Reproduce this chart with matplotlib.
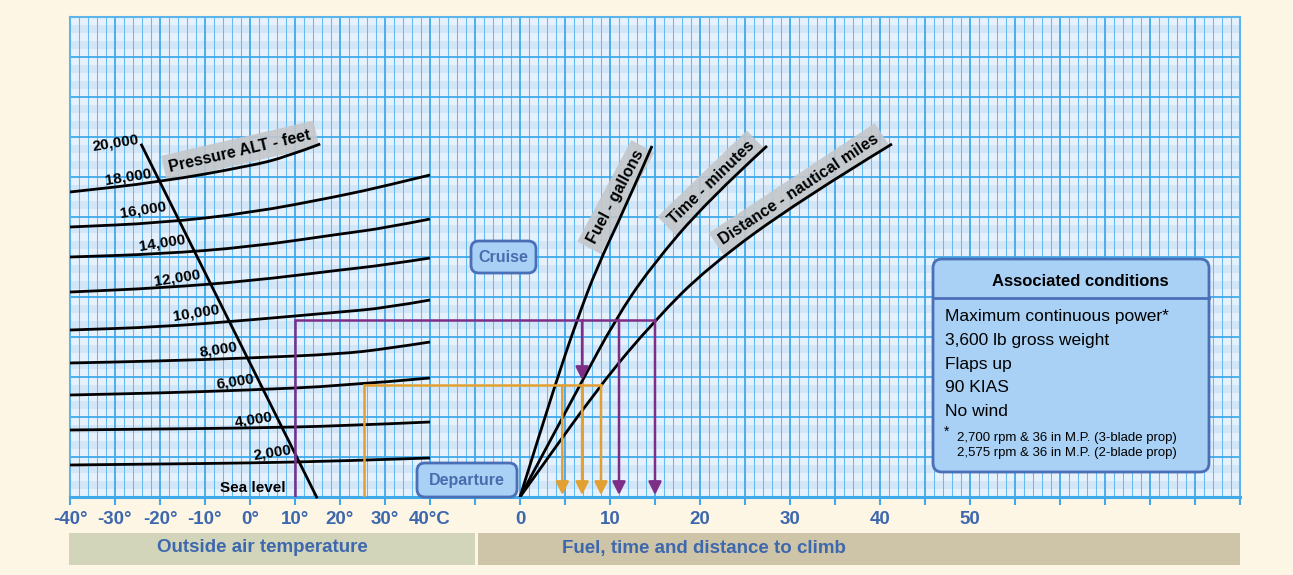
import matplotlib
matplotlib.use("Agg")
import matplotlib.pyplot as plt
from matplotlib.patches import FancyBboxPatch, Rectangle, PathPatch
from matplotlib.path import Path

plt.rcParams["font.family"] = ["Liberation Sans", "DejaVu Sans"]

# --- colours ---
CREAM = "#FDF6E4"
GRID_LIGHT = "#E5F1FC"
GRID_BAND = "#D3E6F8"
GRID_LINE = "#3FA9EA"
GRID_MINOR = "#66BBF0"
TXT_BLUE = "#3E68AD"
BOX_FILL = "#A9D1F5"
BOX_EDGE = "#4A6FB6"
PURPLE = "#7D2E87"
ORANGE = "#E3A032"

# --- data (x in deg C, y in chart rows; fuel scale shares the x axis) ---
temp_ticks = [-40, -30, -20, -10, 0, 10, 20, 30, 40]
temp_labels = ["-40°", "-30°", "-20°", "-10°", "0°", "10°", "20°", "30°", "40°C"]
fuel_ticks = [0, 10, 20, 30, 40, 50]

alt_names = ["2,000", "4,000", "6,000", "8,000", "10,000", "12,000", "14,000", "16,000", "18,000"]
alt_x = [
    [-40, -20, 0, 20, 40],
    [-40, -20, 0, 20, 40],
    [-40, -20, 0, 20, 40],
    [-40, -20, 0, 20, 30, 40],
    [-40, -20, 0, 20, 30, 40],
    [-40, -20, 0, 20, 30, 40],
    [-40, -20, 0, 20, 30, 40],
    [-40, -20, 0, 20, 30, 40],
    [-40, -20, 0, 8, 15.6],
]
alt_y = [
    [0.80, 0.825, 0.85, 0.90, 0.975],
    [1.675, 1.70, 1.725, 1.775, 1.875],
    [2.55, 2.60, 2.675, 2.775, 2.975],
    [3.35, 3.40, 3.475, 3.575, 3.70, 3.875],
    [4.175, 4.25, 4.425, 4.625, 4.725, 4.925],
    [5.125, 5.225, 5.40, 5.675, 5.80, 5.975],
    [6.0, 6.075, 6.25, 6.575, 6.725, 6.95],
    [6.75, 6.85, 7.10, 7.525, 7.775, 8.05],
    [7.625, 7.875, 8.275, 8.5, 8.825],
]
alt_label_text = ["Sea level", "2,000", "4,000", "6,000", "8,000", "10,000",
                  "12,000", "14,000", "16,000", "18,000", "20,000"]
alt_label_x = [0.7, 4.9, 0.9, -3.3, -7.1, -12.0, -16.2, -19.6, -23.8, -27.1, -29.8]
alt_label_y = [0.225, 1.1, 1.925, 2.875, 3.675, 4.6, 5.475, 6.35, 7.175, 8.0, 8.85]

std_x = [-24.1, 14.8]
std_y = [8.8, 0.0]

fuel_f = [0, 3.89, 6.33, 8.56, 11.56, 14.67]
fuel_y = [0, 2.8, 4.425, 5.75, 7.175, 8.775]
time_f = [0, 6.67, 10.56, 14.44, 20.89, 27.44]
time_y = [0, 2.8, 4.425, 5.725, 7.425, 8.775]
dist_f = [0, 8.89, 15.0, 20.78, 31.11, 41.33]
dist_y = [0, 2.8, 4.425, 5.725, 7.425, 8.825]

dep_temp, dep_row = 25.3, 2.8
dep_reads = [4.7, 6.9, 9.0]
cru_temp, cru_row = 10.0, 4.425
cru_reads = [6.9, 11.0, 15.0]
cru_stop = [2.875, 0.0, 0.0]

conditions = ["Maximum continuous power*", "3,600 lb gross weight", "Flaps up",
              "90 KIAS", "No wind"]
footnotes = ["2,700 rpm & 36 in M.P. (3-blade prop)",
             "2,575 rpm & 36 in M.P. (2-blade prop)"]


def fx(f):
    # fuel/time/distance scale: 0 at 60 deg on the shared axis, 1 unit = 2 deg
    return 60 + 2 * f


def smooth_curve(ax, xs, ys, **kw):
    # draw the read points as a smooth quadratic-bezier chain
    pts = list(zip(xs, ys))
    verts = [pts[0]]
    codes = [Path.MOVETO]
    if len(pts) > 2:
        verts.append(((pts[0][0] + pts[1][0]) / 2, (pts[0][1] + pts[1][1]) / 2))
        codes.append(Path.LINETO)
        for i in range(1, len(pts) - 1):
            nxt = pts[i + 1]
            mid = ((pts[i][0] + nxt[0]) / 2, (pts[i][1] + nxt[1]) / 2)
            end = nxt if i == len(pts) - 2 else mid
            verts += [pts[i], end]
            codes += [Path.CURVE3, Path.CURVE3]
    else:
        verts.append(pts[1])
        codes.append(Path.LINETO)
    ax.add_patch(PathPatch(Path(verts, codes), fill=False, **kw))


fig = plt.figure(figsize=(12.93, 5.75), dpi=100, facecolor=CREAM)
ax = fig.add_axes([70 / 1293, 78 / 575, 1170 / 1293, 480 / 575])
ax.set_facecolor(GRID_LIGHT)
ax.set_xlim(-40, 220)
ax.set_ylim(0, 12)

# striped background bands
for k in range(12):
    ax.axhspan(k + 0.2, k + 0.4, color=GRID_BAND, lw=0, zorder=0)
    ax.axhspan(k + 0.6, k + 0.8, color=GRID_BAND, lw=0, zorder=0)

major_x = list(range(-40, 221, 10))
labels = []
for t in major_x:
    if t in temp_ticks:
        labels.append(temp_labels[temp_ticks.index(t)])
    elif (t - 60) / 2 in fuel_ticks:
        labels.append(str(int((t - 60) / 2)))
    else:
        labels.append("")
ax.set_xticks(major_x, labels=labels)
ax.set_xticks(range(-40, 221, 2), minor=True)
ax.set_yticks(range(0, 13))
ax.set_yticks([], minor=True)
ax.tick_params(axis="x", which="major", direction="out", length=6, width=1.5,
               color=GRID_LINE, pad=4, labelsize=13.5, labelcolor=TXT_BLUE)
ax.tick_params(axis="x", which="minor", length=0)
ax.tick_params(axis="y", length=0, labelleft=False)
for lab in ax.get_xticklabels():
    lab.set_fontweight("bold")
ax.set_axisbelow(True)
ax.grid(True, which="major", color=GRID_LINE, lw=1.3)
ax.grid(True, which="minor", axis="x", color=GRID_MINOR, lw=0.75)
for s in ax.spines.values():
    s.set_color("#5DB5EE")
    s.set_linewidth(1.5)
ax.spines["bottom"].set_color(GRID_LINE)
ax.spines["bottom"].set_linewidth(2.2)

# pressure altitude lines
for xs, ys in zip(alt_x, alt_y):
    smooth_curve(ax, xs, ys, ec="black", lw=2, capstyle="butt", zorder=3)
ax.plot(std_x, std_y, color="black", lw=2, zorder=3, clip_on=False)
for s, x, y in zip(alt_label_text, alt_label_x, alt_label_y):
    ax.text(x, y, s, ha="center", va="center", fontsize=11, fontweight="bold",
            rotation=0 if s == "Sea level" else 9, zorder=4)

# fuel / time / distance curves
for fs, ys in [(fuel_f, fuel_y), (time_f, time_y), (dist_f, dist_y)]:
    smooth_curve(ax, [fx(v) for v in fs], ys, ec="black", lw=2, zorder=3)

gray = dict(boxstyle="square,pad=0.35", fc="#C4C7CA", ec="none", alpha=0.9)
ax.text(-2.2, 8.65, "Pressure ALT - feet", rotation=13, ha="center", va="center",
        fontsize=11.5, fontweight="bold", bbox=gray, zorder=2)
ax.text(81.3, 7.5, "Fuel - gallons", rotation=62, ha="center", va="center",
        fontsize=11.5, fontweight="bold", bbox=gray, zorder=2)
ax.text(102.5, 7.85, "Time - minutes", rotation=44, ha="center", va="center",
        fontsize=11.5, fontweight="bold", bbox=gray, zorder=2)
ax.text(122.0, 7.7, "Distance - nautical miles", rotation=33.5, ha="center",
        va="center", fontsize=11.5, fontweight="bold", bbox=gray, zorder=2)

# example routes
def route(t, row, reads, stops, color):
    ax.plot([t, t, fx(reads[-1])], [0, row, row], color=color, lw=1.8, zorder=5,
            solid_joinstyle="miter")
    for v, stop in zip(reads, stops):
        ax.annotate("", xy=(fx(v), stop + 0.05), xytext=(fx(v), row),
                    arrowprops=dict(arrowstyle="-|>,head_length=0.6,head_width=0.3",
                                    color=color, lw=1.8, shrinkA=0, shrinkB=0,
                                    mutation_scale=13), zorder=5)

route(dep_temp, dep_row, dep_reads, [0, 0, 0], ORANGE)
route(cru_temp, cru_row, cru_reads, cru_stop, PURPLE)

# overlay in figure pixels for boxes and captions
ov = fig.add_axes([0, 0, 1, 1], zorder=10)
ov.set_xlim(0, 1293)
ov.set_ylim(575, 0)
ov.axis("off")

ov.add_patch(Rectangle((69, 533), 406, 32, fc="#D3D5BB", ec="none"))
ov.add_patch(Rectangle((478, 533), 762, 32, fc="#CEC5A9", ec="none"))
ov.text(262, 548, "Outside air temperature", ha="center", va="center",
        fontsize=13.5, fontweight="bold", color=TXT_BLUE)
ov.text(704, 548, "Fuel, time and distance to climb", ha="center", va="center",
        fontsize=13.5, fontweight="bold", color=TXT_BLUE)

for (x0, y0, w, h, s) in [(471, 241, 65, 32, "Cruise"), (417, 463, 100, 34, "Departure")]:
    ov.add_patch(FancyBboxPatch((x0, y0), w, h, boxstyle="round,pad=0,rounding_size=8",
                                fc=BOX_FILL, ec=BOX_EDGE, lw=2))
    ov.text(x0 + w / 2, y0 + h / 2 + 1, s, ha="center", va="center", fontsize=11.5,
            fontweight="bold", color="#4A6BAE")

ov.add_patch(FancyBboxPatch((933, 259), 276, 213, boxstyle="round,pad=0,rounding_size=9",
                            fc=BOX_FILL, ec=BOX_EDGE, lw=2))
ov.plot([933, 1209], [298, 298], color=BOX_EDGE, lw=2)
ov.text(1080, 281, "Associated conditions", ha="center", va="center", fontsize=12,
        fontweight="bold", color="black")
for i, s in enumerate(conditions):
    ov.text(945, 316 + 24 * i, s, ha="left", va="center", fontsize=12.5, color="black")
ov.text(944, 432, "*", ha="left", va="center", fontsize=10, color="black")
for i, s in enumerate(footnotes):
    ov.text(957, 438 + 15 * i, s, ha="left", va="center", fontsize=9.5, color="black")

fig.savefig("out.png", dpi=100, facecolor=CREAM)
